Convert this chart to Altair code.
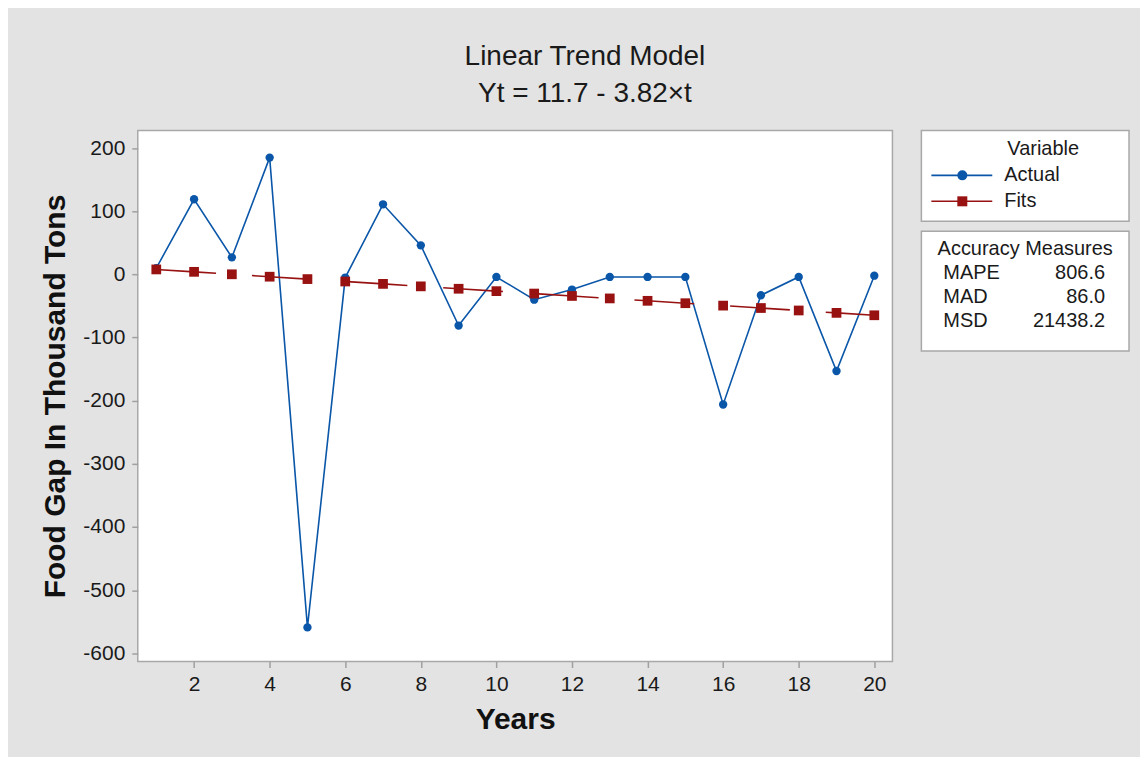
import altair as alt
import pandas as pd

# ---------------- data ----------------
years = list(range(1, 21))
actual = [10, 119, 27, 185, -559, -5, 111, 46, -81, -4,
          -40, -24, -4, -4, -4, -206, -33, -4, -153, -2]
fits = [7.9, 4.1, 0.2, -3.6, -7.4, -11.2, -15.0, -18.9, -22.7, -26.5,
        -30.3, -34.1, -38.0, -41.8, -45.6, -49.4, -53.2, -57.1, -60.9, -64.7]
series_names = ["Actual", "Fits"]
measure_names = ["MAPE", "MAD", "MSD"]
measure_values = [806.6, 86.0, 21438.2]
title_lines = ["Linear Trend Model", "Yt = 11.7 - 3.82\u00d7t"]
x_ticks = list(range(2, 21, 2))
y_ticks = list(range(-600, 201, 100))

# ---------------- style ----------------
FONT = "Liberation Sans"
BLUE = "#0a56a8"
RED = "#981212"
TXT = "#1a1a1a"
FRAME = "#a8a8a8"

df = pd.DataFrame({
    "t": years * 2,
    "value": actual + fits,
    "series": ["Actual"] * len(years) + ["Fits"] * len(years),
})

x_enc = alt.X("t:Q",
              scale=alt.Scale(domain=[0.51, 20.48], nice=False, zero=False),
              axis=alt.Axis(values=x_ticks, title="Years", labelPadding=6,
                            titlePadding=10, labelFlush=False))
y_enc = alt.Y("value:Q",
              scale=alt.Scale(domain=[-613, 228], nice=False, zero=False),
              axis=alt.Axis(values=y_ticks, title="Food Gap In Thousand Tons",
                            labelExpr="'' + datum.value",
                            labelPadding=7, titlePadding=12))

base = alt.Chart(df)
act_line = base.transform_filter(alt.datum.series == "Actual").mark_line(
    color=BLUE, strokeWidth=1.6).encode(x=x_enc, y=y_enc)
act_pts = base.transform_filter(alt.datum.series == "Actual").mark_point(
    shape="circle", filled=True, color=BLUE, size=70, opacity=1).encode(x=x_enc, y=y_enc)
fit_line = base.transform_filter(alt.datum.series == "Fits").mark_line(
    color=RED, strokeWidth=1.6, strokeDash=[60, 36]).encode(x=x_enc, y=y_enc)
fit_pts = base.transform_filter(alt.datum.series == "Fits").mark_point(
    shape="square", filled=True, color=RED, size=95, opacity=1).encode(x=x_enc, y=y_enc)

main = alt.layer(act_line, act_pts, fit_line, fit_pts).properties(width=756, height=532)

# ---------------- legend panel: Variable ----------------
leg_df = pd.DataFrame({"series": series_names})
col = alt.Color("series:N", scale=alt.Scale(domain=series_names, range=[BLUE, RED]), legend=None)
shp = alt.Shape("series:N", scale=alt.Scale(domain=series_names, range=["circle", "square"]), legend=None)
ly = alt.Y("series:N", scale=alt.Scale(type="point", domain=series_names, range=[45, 71], padding=0),
           axis=None)

leg_head = alt.Chart(pd.DataFrame({"h": ["Variable"]})).mark_text(
    font=FONT, fontSize=20, color=TXT, align="center", baseline="middle").encode(
    x=alt.value(122), y=alt.value(19), text="h:N")
leg_rule = alt.Chart(leg_df).mark_rule(strokeWidth=1.6).encode(
    x=alt.value(10), x2=alt.value(71), y=ly, color=col)
leg_pts = alt.Chart(leg_df).mark_point(filled=True, opacity=1, size=100).encode(
    x=alt.value(41), y=ly, color=col, shape=shp)
leg_txt = alt.Chart(leg_df).mark_text(
    font=FONT, fontSize=20, color=TXT, align="left", baseline="middle").encode(
    x=alt.value(83), y=ly, text="series:N")
var_panel = alt.layer(leg_head, leg_rule, leg_pts, leg_txt).properties(width=208, height=91)

# ---------------- legend panel: Accuracy Measures ----------------
acc_df = pd.DataFrame({"name": measure_names, "value": measure_values})
ay = alt.Y("name:N", scale=alt.Scale(type="point", domain=measure_names, range=[42, 90], padding=0),
           axis=None)
acc_head = alt.Chart(pd.DataFrame({"h": ["Accuracy Measures"]})).mark_text(
    font=FONT, fontSize=20, color=TXT, align="center", baseline="middle").encode(
    x=alt.value(104), y=alt.value(18), text="h:N")
acc_names = alt.Chart(acc_df).mark_text(
    font=FONT, fontSize=20, color=TXT, align="left", baseline="middle").encode(
    x=alt.value(22), y=ay, text="name:N")
acc_vals = alt.Chart(acc_df).mark_text(
    font=FONT, fontSize=20, color=TXT, align="right", baseline="middle").encode(
    x=alt.value(184), y=ay, text=alt.Text("value:Q", format=".1f"))
acc_panel = alt.layer(acc_head, acc_names, acc_vals).properties(width=208, height=120)

side = alt.vconcat(var_panel, acc_panel, spacing=8)

chart = alt.hconcat(main, side, spacing=27).properties(
    title=alt.TitleParams(title_lines, font=FONT, fontSize=28, fontWeight="normal",
                          color=TXT, anchor="middle", lineHeight=37, offset=22),
    background="#e3e3e3",
    padding={"left": 32, "top": 34, "right": 10, "bottom": 21},
).configure_view(
    stroke=FRAME, strokeWidth=1.5, fill="white"
).configure_axis(
    grid=False, domain=False, tickColor="#a0a0a0", tickSize=6, tickWidth=1.5,
    labelFont=FONT, labelFontSize=21, labelColor=TXT,
    titleFont=FONT, titleFontSize=30, titleFontWeight="bold", titleColor="#111111",
)

chart.save("out.html", embed_options={"renderer": "svg", "actions": False})
